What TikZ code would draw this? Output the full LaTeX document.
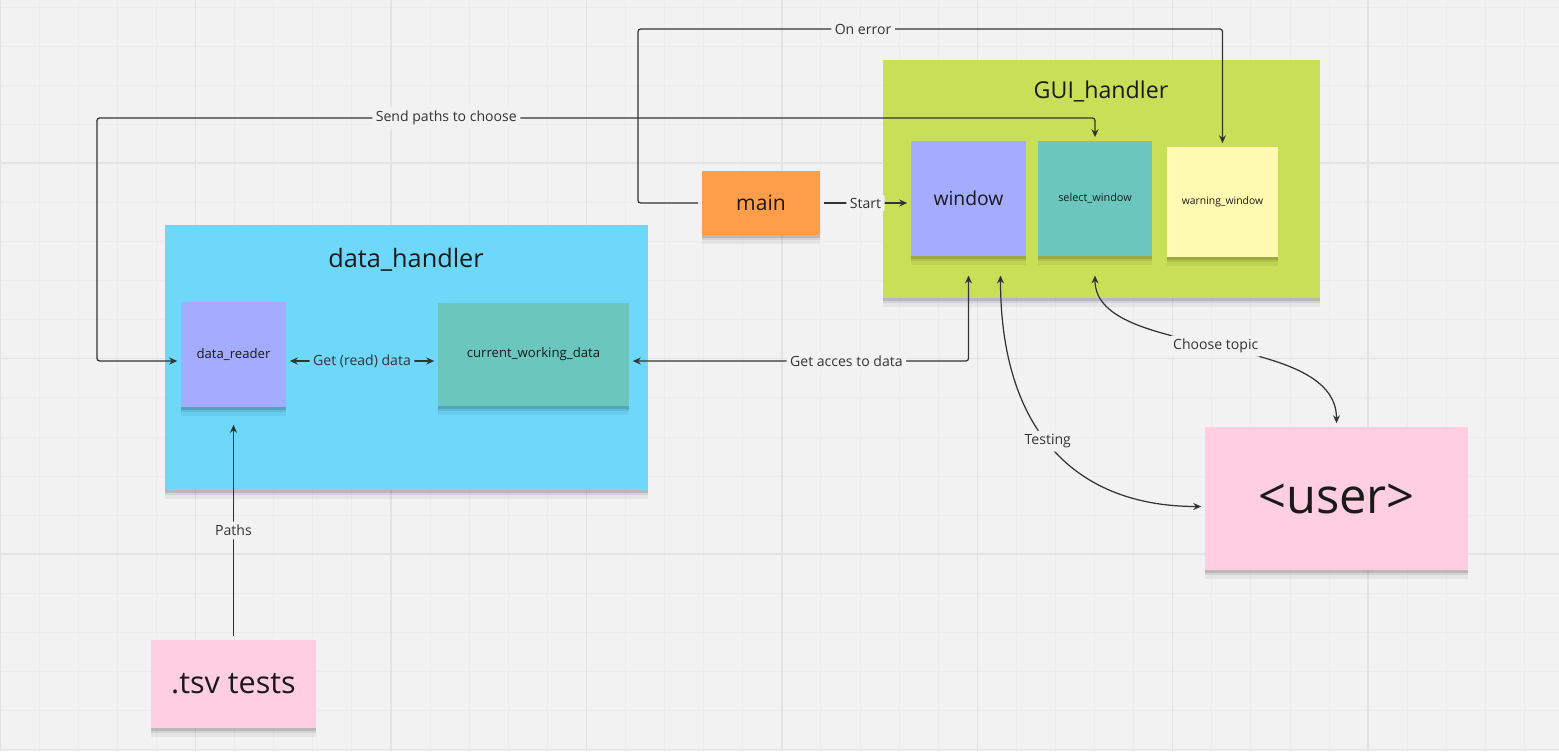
\documentclass[tikz,border=0pt]{standalone}
\usepackage{fontspec}
\setmainfont{Open Sans}
\usepackage{xcolor}
\usetikzlibrary{arrows.meta,positioning,calc,shadows}

\definecolor{board}{HTML}{F2F2F2}
\definecolor{gridminor}{HTML}{ECECEC}
\definecolor{gridmajor}{HTML}{E3E3E3}
\definecolor{ink}{HTML}{1A1A1A}
\definecolor{wire}{HTML}{333333}
\definecolor{noteorange}{HTML}{FF9D48}
\definecolor{notegreen}{HTML}{CADF58}
\definecolor{notecyan}{HTML}{6DD8FA}
\definecolor{notepurple}{HTML}{A3ACFF}
\definecolor{noteteal}{HTML}{6BC7BE}
\definecolor{noteyellow}{HTML}{FFF9B1}
\definecolor{notepink}{HTML}{FFCEE0}

\newcommand{\fsz}[1]{\fontsize{#1}{#1}\selectfont}

\begin{document}
\begin{tikzpicture}[x=0.02cm,y=-0.02cm,>={Stealth[length=4.5pt,width=4pt]},
  softshadow/.style={
    general shadow={shadow xshift=0pt,shadow yshift=-1.5pt,fill=black,opacity=0.12},
    general shadow={shadow xshift=0pt,shadow yshift=-3pt,fill=black,opacity=0.08},
    general shadow={shadow xshift=0pt,shadow yshift=-5pt,fill=black,opacity=0.05}},
  sticky/.style={fill=#1,inner sep=0pt,text=ink,align=center,softshadow},
  boxtitle/.style={inner sep=0pt,text=ink},
  wirelabel/.style={fill=board,inner sep=2pt,text=wire,font=\fsz{8}},
  link/.style={draw=wire,line width=0.7pt,rounded corners=1.5pt,shorten >=2pt,shorten <=2pt}]
\useasboundingbox (0,0) rectangle (1559,751);
\fill[board] (0,0) rectangle (1559,751);
% board grid
\foreach \k in {0,...,39}
  \draw[gridminor,line width=0.5pt] (\k*39.09,0) -- ++(0,751);
\foreach \k in {0,...,19}
  \draw[gridminor,line width=0.5pt] (0,7+\k*39.09) -- ++(1559,0);
\foreach \k in {0,...,7}
  \draw[gridmajor,line width=0.8pt] (\k*195.45,0) -- ++(0,751);
\foreach \k in {0,...,3}
  \draw[gridmajor,line width=0.8pt] (0,163+\k*195.45) -- ++(1559,0);

% containers
\node[sticky=notegreen,minimum width=8.74cm,minimum height=4.76cm] (gui) at (1101.5,179) {};
\node[boxtitle,font=\fsz{13.2}] (guititle) at (1101,91) {GUI\_handler};
\node[sticky=notecyan,minimum width=9.66cm,minimum height=5.3cm] (data) at (406.5,357.5) {};
\node[boxtitle,font=\fsz{14.4}] (datatitle) at (406,260) {data\_handler};

% notes
\node[sticky=noteorange,minimum width=2.36cm,minimum height=1.28cm,font=\fsz{12}] (main) at (761,203) {main};
\node[sticky=notepurple,minimum size=2.3cm,font=\fsz{11}] (window) at (968.5,198.5) {window};
\node[sticky=noteteal,minimum width=2.28cm,minimum height=2.3cm,font=\fsz{6.2}] (select) at (1095,198.5) {select\_window};
\node[sticky=noteyellow,minimum width=2.22cm,minimum height=2.2cm,font=\fsz{5.9}] (warn) at (1222.5,202) {warning\_window};
\node[sticky=notepurple,minimum size=2.1cm,font=\fsz{7.5}] (reader) at (233.5,354.5) {data\_reader};
\node[sticky=noteteal,minimum width=3.82cm,minimum height=2.06cm,font=\fsz{7.5}] (cwd) at (533.5,354.5) {current\_working\_data};
\node[sticky=notepink,minimum width=3.3cm,minimum height=1.76cm,font=\fsz{17.4}] (tsv) at (233.5,684) {.tsv tests};
\node[sticky=notepink,minimum width=5.26cm,minimum height=2.86cm,font=\fsz{27.8}] (user) at (1336.5,498.5) {<user>};

% connectors
\coordinate (row) at (0,361);
\coordinate (guibase) at (0,272);
\coordinate (errtop) at (638,29);
\coordinate (sendtop) at (97,118);
\coordinate (testfoot) at ($(window.south |- guibase)+(32,0)$);

\draw[link,->] (main.west) -| (errtop) -- node[wirelabel,pos=0.385] {On error} (errtop -| warn.north) -- (warn.north);
\draw[link,<->] (reader.west |- row) -| (sendtop) -- node[wirelabel,pos=0.35] {Send paths to choose} (sendtop -| select.north) -- (select.north);
\draw[link,->] (main.east) -- node[wirelabel] {Start} (main.east -| window.west);
\draw[link,<->] (reader.east |- row) -- node[wirelabel,fill=notecyan] {Get (read) data} (cwd.west |- row);
\draw[link,<->] (cwd.east |- row) -| node[wirelabel,pos=0.32] {Get acces to data} (window.south |- guibase);
\draw[link,<->] (testfoot) .. controls +(0,158) and +(-130,0) .. node[wirelabel,pos=0.47] {Testing} ($(user.west)+(0,8)$);
\draw[link,<->] (select.south |- guibase) .. controls +(0,88) and +(0,-97) .. node[wirelabel] {Choose topic} (user.north);
\draw[link,->,shorten >=10pt] (tsv.north) -- node[wirelabel,pos=0.47] {Paths} (reader.south);
\end{tikzpicture}
\end{document}
